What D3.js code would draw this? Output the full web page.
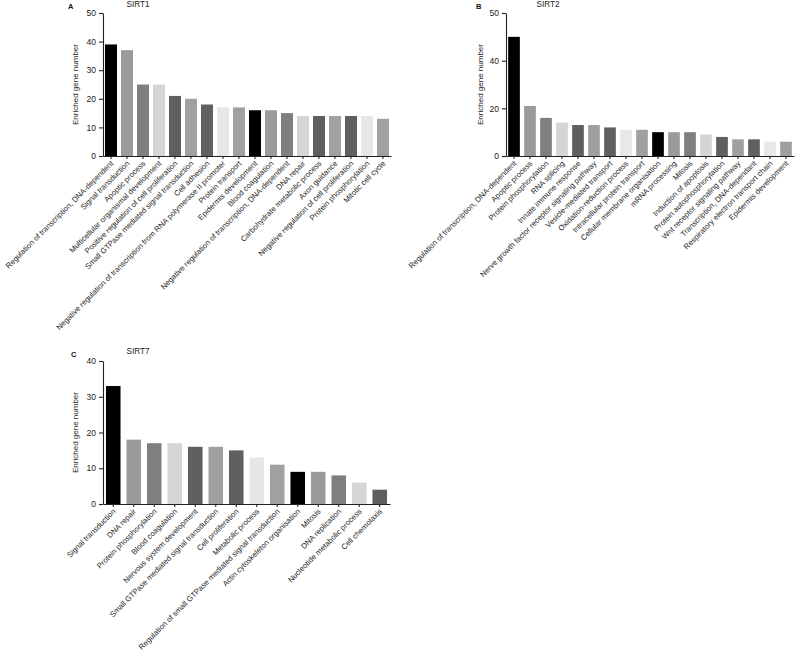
<!DOCTYPE html>
<html>
<head>
<meta charset="utf-8">
<script src="https://cdn.jsdelivr.net/npm/d3@7"></script>
<style>
  body { margin: 0; background: #fff; }
  svg { display: block; font-family: "Liberation Sans", Arial, sans-serif; }
  .axis path, .axis line { stroke: #222; stroke-width: 1.1; }
  .axis text { fill: #222; }
</style>
</head>
<body>
<div id="chart"></div>
<script>
// SIRT1
var sirt1Categories = ["Regulation of transcription, DNA-dependent", "Signal transduction", "Apoptic process",
  "Multicellular organismal development", "Positive regulation of cell proliferation",
  "Small GTPase mediated signal transduction", "Cell adhesion",
  "Negative regulation of transcription from RNA polymerase II promoter", "Protein transport",
  "Epidermis development", "Blood coagulation", "Negative regulation of transcription, DNA-dependent",
  "DNA repair", "Carbohydrate metabolic process", "Axon guidance",
  "Negative regulation of cell proliferation", "Protein phosphorylation", "Mitotic cell cycle"];
var sirt1Values = [39, 37, 25, 25, 21, 20, 18, 17, 17, 16, 16, 15, 14, 14, 14, 14, 14, 13];
var sirt1Ticks = [0, 10, 20, 30, 40, 50];

// SIRT2
var sirt2Categories = ["Regulation of transcription, DNA-dependent", "Apoptic process", "Protein phosphorylation",
  "RNA splicing", "Innate immune response", "Nerve growth factor receptor signaling pathway",
  "Vesicle-mediated transport", "Oxidation-reduction process", "Intracellular protein transport",
  "Cellular membrane organisation", "mRNA processing", "Mitosis", "Induction of apoptosis",
  "Protein autophosphorylation", "Wnt receptor signaling pathway", "Transcription, DNA-dependant",
  "Respiratory electron transport chain", "Epidermis development"];
var sirt2Values = [45, 21, 16, 14, 13, 13, 12, 11, 11, 10, 10, 10, 9, 8, 7, 7, 6, 6];
var sirt2Ticks = [0, 20, 40, 50];

// SIRT7
var sirt7Categories = ["Signal transduction", "DNA repair", "Protein phosphorylation", "Blood coagulation",
  "Nervous system development", "Small GTPase mediated signal transduction", "Cell proliferation",
  "Metabolic process", "Regulation of small GTPase mediated signal transduction",
  "Actin cytoskeleton organisation", "Mitosis", "DNA replication", "Nucleotide metabolic process",
  "Cell chemotaxis"];
var sirt7Values = [33, 18, 17, 17, 16, 16, 15, 13, 11, 9, 9, 8, 6, 4];
var sirt7Ticks = [0, 10, 20, 30, 40];

var barColors = ["#000000", "#9b9b9b", "#7f7f7f", "#d5d5d5", "#5f5f5f", "#a0a0a0", "#606060", "#e7e7e7", "#a0a0a0"];

var width = 796, height = 657;
var svg = d3.select("#chart").append("svg")
    .attr("width", width)
    .attr("height", height);

function drawPanel(cfg) {
    var g = svg.append("g");

    var x = d3.scaleBand()
        .domain(cfg.categories)
        .range([cfg.left, cfg.right])
        .paddingInner(cfg.pad)
        .paddingOuter(cfg.pad / 2);

    var y = d3.scaleLinear()
        .domain(cfg.domain)
        .range(cfg.range);

    var y0 = cfg.range[0];

    // bars
    g.selectAll("rect")
        .data(cfg.values)
        .enter()
        .append("rect")
        .attr("x", function (d, i) { return x(cfg.categories[i]); })
        .attr("y", function (d) { return y(d); })
        .attr("width", x.bandwidth())
        .attr("height", function (d) { return y0 - y(d); })
        .attr("fill", function (d, i) { return barColors[i % barColors.length]; });

    // y axis
    var ya = g.append("g")
        .attr("class", "axis")
        .attr("transform", "translate(" + cfg.left + ",0)")
        .call(d3.axisLeft(y).tickValues(cfg.ticks).tickSize(4).tickSizeOuter(0).tickPadding(3));
    ya.selectAll("text").style("font-size", "8.5px");

    // x axis
    var xa = g.append("g")
        .attr("class", "axis")
        .attr("transform", "translate(0," + y0 + ")")
        .call(d3.axisBottom(x).tickSize(3).tickSizeOuter(0));
    xa.selectAll("text")
        .style("font-size", "7.7px")
        .style("text-anchor", "end")
        .attr("dy", "0.35em")
        .attr("y", 0)
        .attr("transform", "translate(1,6) rotate(-45)");

    // y title
    g.append("text")
        .attr("transform", "translate(" + cfg.titleX + "," + ((cfg.range[0] + cfg.range[cfg.range.length - 1]) / 2) + ") rotate(-90)")
        .attr("text-anchor", "middle")
        .attr("dy", "0.35em")
        .style("font-size", "8px")
        .style("fill", "#222")
        .text("Enriched gene number");

    // panel letter + name
    g.append("text")
        .attr("x", cfg.letterX).attr("y", cfg.letterY)
        .style("font-size", "7.5px").style("font-weight", "bold").style("fill", "#111")
        .text(cfg.letter);
    g.append("text")
        .attr("x", cfg.nameX).attr("y", cfg.nameY)
        .attr("text-anchor", "middle")
        .style("font-size", "8.2px").style("fill", "#222")
        .text(cfg.name);
}

drawPanel({
    categories: sirt1Categories, values: sirt1Values, ticks: sirt1Ticks,
    left: 103, right: 391, pad: 0.25,
    domain: [0, 50], range: [156, 13],
    titleX: 75, letter: "A", letterX: 68, letterY: 9, name: "SIRT1", nameX: 138, nameY: 7
});

drawPanel({
    categories: sirt2Categories, values: sirt2Values, ticks: sirt2Ticks,
    left: 506, right: 794, pad: 0.27,
    domain: [0, 40, 50], range: [156, 60.7, 13],
    titleX: 480, letter: "B", letterX: 476, letterY: 9, name: "SIRT2", nameX: 548, nameY: 7
});

drawPanel({
    categories: sirt7Categories, values: sirt7Values, ticks: sirt7Ticks,
    left: 103, right: 390, pad: 0.29,
    domain: [0, 40], range: [504, 361],
    titleX: 75, letter: "C", letterX: 71, letterY: 357, name: "SIRT7", nameX: 138, nameY: 354
});
</script>
</body>
</html>
